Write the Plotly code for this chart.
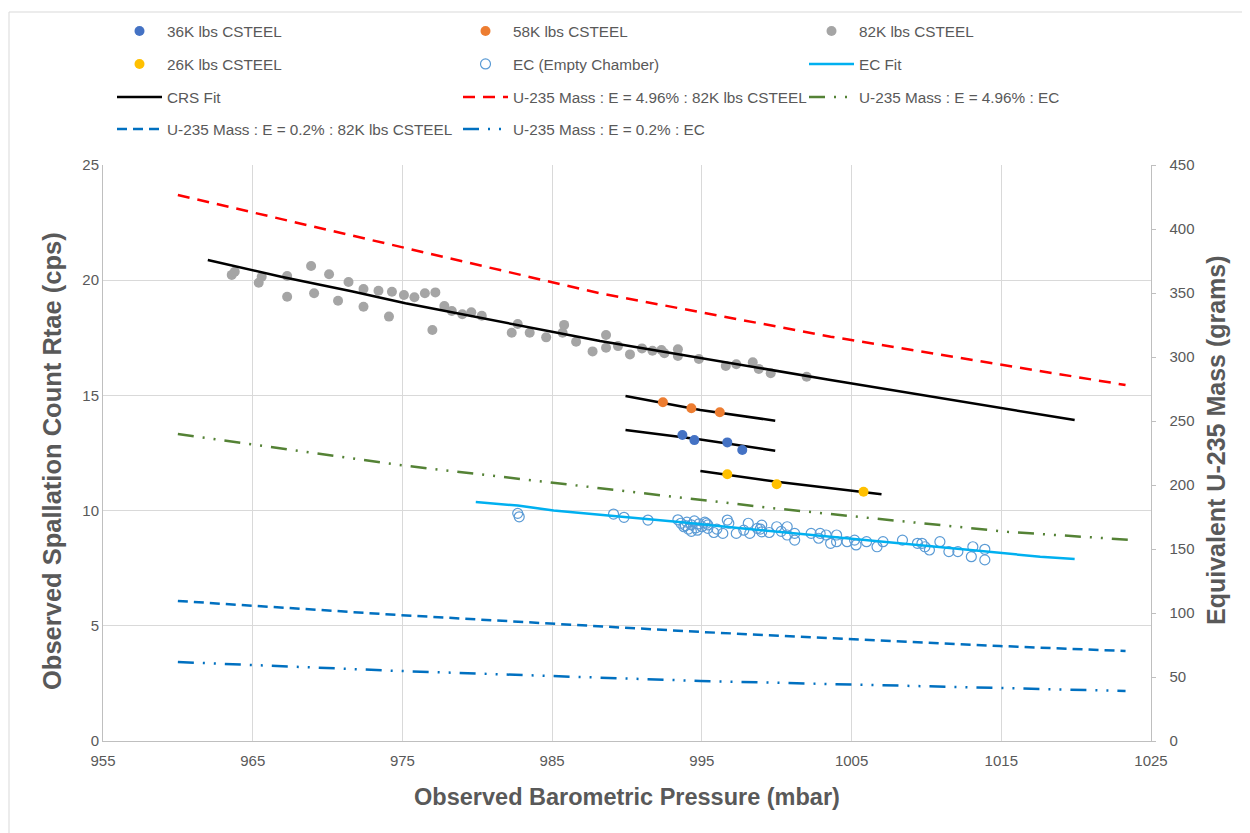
import plotly.graph_objects as go

# ---------------- data ----------------
# 82K lbs CSTEEL (gray)
x82 = [963.6, 963.8, 965.4, 965.6, 967.3, 967.3, 968.9, 969.1, 970.1, 970.7, 971.4, 972.4,
       972.4, 973.4, 974.3, 974.1, 975.1, 975.8, 976.5, 977.2, 977.0, 977.8, 978.3, 979.0,
       979.6, 980.3, 982.3, 982.7, 983.5, 984.6, 985.7, 985.8, 986.6, 987.7, 988.6, 988.6,
       989.4, 990.2, 991.0, 991.7, 992.3, 992.5, 993.4, 993.4, 994.8, 996.6, 997.3, 998.4,
       998.8, 999.6, 1002.0]
y82 = [20.23, 20.37, 19.89, 20.15, 20.18, 19.28, 20.62, 19.43, 20.26, 19.11, 19.92, 19.62,
       18.85, 19.54, 19.50, 18.42, 19.36, 19.26, 19.43, 19.47, 17.84, 18.88, 18.66, 18.52,
       18.61, 18.46, 17.72, 18.10, 17.72, 17.52, 17.72, 18.06, 17.33, 16.91, 17.62, 17.07,
       17.14, 16.78, 17.04, 16.94, 16.97, 16.83, 17.00, 16.71, 16.58, 16.28, 16.35, 16.44,
       16.15, 15.96, 15.81]

# 36K lbs CSTEEL (blue)
x36 = [993.7, 994.5, 996.7, 997.7]
y36 = [13.28, 13.06, 12.96, 12.63]

# 58K lbs CSTEEL (orange)
x58 = [992.4, 994.3, 996.2]
y58 = [14.70, 14.44, 14.27]

# 26K lbs CSTEEL (yellow)
x26 = [996.7, 1000.0, 1005.8]
y26 = [11.58, 11.14, 10.82]

# EC (Empty Chamber)
xec = [982.7, 982.8, 989.1, 989.8, 991.4,
       993.4, 993.6, 993.8, 994.0, 994.1, 994.3, 994.5, 994.6, 994.8, 994.3, 993.9, 995.0,
       995.2, 994.7, 995.4, 995.3, 995.4, 996.7, 996.8, 996.4, 997.3, 998.1, 998.2, 998.7,
       999.0, 999.0, 1000.0, 1000.7, 1000.7, 1001.2, 1001.2, 1002.3, 1002.9, 1002.8, 1003.3,
       1004.0, 1004.0, 1003.6, 1004.7, 1005.2, 1005.3, 1006.0, 1006.7, 1007.1, 1008.4,
       1009.4, 1009.7, 1009.9, 1010.2, 1010.9, 1011.5, 1012.1, 1013.1, 1013.9, 1013.0, 1013.9,
       996.0, 997.8, 999.5, 1000.3, 995.8, 998.9]
yec = [9.88, 9.73, 9.85, 9.71, 9.59,
       9.60, 9.45, 9.30, 9.50, 9.20, 9.38, 9.55, 9.25, 9.42, 9.10, 9.35, 9.30,
       9.50, 9.15, 9.38, 9.45, 9.23, 9.59, 9.45, 9.01, 9.01, 9.45, 9.01, 9.23,
       9.37, 9.08, 9.30, 9.30, 8.94, 9.01, 8.72, 9.01, 9.01, 8.80, 8.94,
       8.94, 8.65, 8.58, 8.65, 8.72, 8.51, 8.65, 8.43, 8.65, 8.72,
       8.58, 8.58, 8.43, 8.29, 8.65, 8.22, 8.22, 8.43, 8.32, 8.00, 7.86,
       9.20, 9.15, 9.05, 9.10, 9.05, 9.20]

# Fits
x_ecfit = [979.9, 982.7, 985.1, 993.3, 997.6, 1017.6, 1019.9]
y_ecfit = [10.37, 10.22, 10.00, 9.52, 9.23, 8.00, 7.90]

x_crs82 = [962.0, 964.8, 966.9, 971.6, 975.2, 988.2, 1003.6, 1019.9]
y_crs82 = [20.88, 20.45, 20.15, 19.52, 19.00, 17.36, 15.67, 13.93]
x_crs58 = [989.9, 994.9, 999.9]
y_crs58 = [14.97, 14.37, 13.90]
x_crs36 = [989.9, 994.9, 999.9]
y_crs36 = [13.50, 13.09, 12.60]
x_crs26 = [994.9, 1000.0, 1007.0]
y_crs26 = [11.72, 11.25, 10.71]

# U-235 mass lines (grams, right axis)
x_u_496_82 = [960.0, 975.1, 988.2, 1003.6, 1023.3]
y_u_496_82 = [426.6, 385.7, 349.7, 315.9, 278.1]
x_u_496_ec = [960.0, 974.8, 988.2, 999.8, 1015.4, 1023.8]
y_u_496_ec = [239.8, 215.6, 197.5, 181.8, 163.4, 157.0]
x_u_02_82 = [960.0, 974.8, 994.9, 1014.9, 1023.3]
y_u_02_82 = [109.4, 98.4, 85.2, 74.2, 70.3]
x_u_02_ec = [960.0, 974.8, 994.9, 1014.9, 1023.3]
y_u_02_ec = [61.7, 54.7, 46.9, 41.4, 39.1]

x_ticks = [955, 965, 975, 985, 995, 1005, 1015, 1025]

# ---------------- figure ----------------
GRAY_TXT = "#595959"
NARROW = "Liberation Sans Narrow, Arial Narrow, Liberation Sans, Arial, sans-serif"
REG = "Liberation Sans, Arial, sans-serif"
LEG_FONT = dict(family=NARROW, size=15.3, color=GRAY_TXT)

fig = go.Figure()
msize = 10

def mk(x, y, name, color, legend, hollow=False):
    if hollow:
        marker = dict(size=msize, color="rgba(0,0,0,0)", line=dict(color=color, width=1.2))
    else:
        marker = dict(size=msize, color=color)
    return go.Scatter(x=x, y=y, mode="markers", name=name, marker=marker, legend=legend)

def ln(x, y, name, color, dash, legend, yaxis="y", show=True, width=2.5):
    return go.Scatter(x=x, y=y, mode="lines", name=name, yaxis=yaxis,
                      line=dict(color=color, width=width, dash=dash),
                      legend=legend, showlegend=show)

# extra black fit segments (no legend entry)
fig.add_trace(ln(x_crs58, y_crs58, "CRS Fit", "black", "solid", "legend3", show=False))
fig.add_trace(ln(x_crs36, y_crs36, "CRS Fit", "black", "solid", "legend3", show=False))
fig.add_trace(ln(x_crs26, y_crs26, "CRS Fit", "black", "solid", "legend3", show=False))

# row 1
fig.add_trace(mk(x36, y36, "36K lbs CSTEEL", "#4472C4", "legend"))
fig.add_trace(mk(x58, y58, "58K lbs CSTEEL", "#ED7D31", "legend"))
fig.add_trace(mk(x82, y82, "82K lbs CSTEEL", "#A5A5A5", "legend"))
# row 2
fig.add_trace(mk(x26, y26, "26K lbs CSTEEL", "#FFC000", "legend2"))
fig.add_trace(mk(xec, yec, "EC (Empty Chamber)", "#5B9BD5", "legend2", hollow=True))
fig.add_trace(ln(x_ecfit, y_ecfit, "EC Fit", "#00B0F0", "solid", "legend2"))
# row 3
fig.add_trace(ln(x_crs82, y_crs82, "CRS Fit", "black", "solid", "legend3"))
fig.add_trace(ln(x_u_496_82, y_u_496_82, "U-235 Mass : E = 4.96% : 82K lbs CSTEEL", "#FF0000",
                 "12px,8px", "legend3", yaxis="y2"))
fig.add_trace(ln(x_u_496_ec, y_u_496_ec, "U-235 Mass : E = 4.96% : EC", "#548235",
                 "16px,9px,2px,9px,2px,9px", "legend3", yaxis="y2"))
# row 4
fig.add_trace(ln(x_u_02_82, y_u_02_82, "U-235 Mass : E = 0.2% : 82K lbs CSTEEL", "#0070C0",
                 "10px,6px", "legend4", yaxis="y2"))
fig.add_trace(ln(x_u_02_ec, y_u_02_ec, "U-235 Mass : E = 0.2% : EC", "#0070C0",
                 "16px,9px,2px,9px,2px,9px", "legend4", yaxis="y2"))

# The page body has an 8px margin, so the figure is drawn at (8, 8) in the window.
OFF = 8
W, H = 1250 - OFF, 833 - OFF
# plot area in window pixels: x 103..1151, y 165..741
PL, PR, PT, PB = 103, 1151, 165, 741
L, R, T, B = PL - OFF, W - (PR - OFF), PT - OFF, H - (PB - OFF)
PH = PB - PT
PW = PR - PL

def py(pix):
    return (PB - pix) / PH

def px(pix):
    return (pix - PL) / PW

def cy(pix):
    return 1 - (pix - OFF) / H

def cx(pix):
    return (pix - OFF) / W

legend_common = dict(orientation="h", xanchor="left", yanchor="middle",
                     xref="container", yref="container",
                     entrywidth=286, entrywidthmode="pixels", font=LEG_FONT,
                     bgcolor="rgba(0,0,0,0)", itemwidth=45)
leg_x = cx(112)
fig.update_layout(
    width=W, height=H,
    margin=dict(l=L, r=R, t=T, b=B, pad=0, autoexpand=False),
    paper_bgcolor="white", plot_bgcolor="white",
    legend=dict(legend_common, x=leg_x, y=cy(31)),
    legend2=dict(legend_common, x=leg_x, y=cy(64)),
    legend3=dict(legend_common, x=leg_x, y=cy(97)),
    legend4=dict(legend_common, x=leg_x, y=cy(129)),
    xaxis=dict(range=[955, 1025], tickvals=x_ticks, showgrid=True, gridcolor="#d9d9d9",
               gridwidth=1, showline=True, linecolor="#bfbfbf", linewidth=1, zeroline=False,
               ticks="", automargin=False, ticklabelstandoff=6,
               tickfont=dict(family=NARROW, size=15, color=GRAY_TXT),
               title=dict(text="<b>Observed Barometric Pressure (mbar)</b>",
                          font=dict(family=NARROW, size=23.5, color=GRAY_TXT), standoff=20)),
    yaxis=dict(range=[0, 25], dtick=5, showgrid=True, gridcolor="#d9d9d9", gridwidth=1,
               showline=True, linecolor="#bfbfbf", linewidth=1, zeroline=False, ticks="",
               automargin=False,
               tickfont=dict(family=REG, size=15, color=GRAY_TXT)),
    yaxis2=dict(range=[0, 450], dtick=50, overlaying="y", side="right", showgrid=False,
                showline=True, linecolor="#bfbfbf", linewidth=1, zeroline=False,
                ticks="outside", ticklen=4, tickcolor="#bfbfbf", automargin=False,
                tickprefix="\u2002\u2009",
                tickfont=dict(family=REG, size=15, color=GRAY_TXT)),
    annotations=[
        dict(text="<b>Observed Spallation Count Rtae (cps)</b>", xref="paper", yref="paper",
             x=px(52), y=py(461), xanchor="center", yanchor="middle", textangle=-90,
             showarrow=False, font=dict(family=REG, size=25.5, color=GRAY_TXT)),
        dict(text="<b>Equivalent U-235 Mass (grams)</b>", xref="paper", yref="paper",
             x=px(1216), y=py(440), xanchor="center", yanchor="middle", textangle=-90,
             showarrow=False, font=dict(family=REG, size=25, color=GRAY_TXT)),
    ],
    shapes=[dict(type="rect", xref="paper", yref="paper",
                 x0=px(9), x1=px(1262), y0=py(845), y1=py(12),
                 line=dict(color="#d9d9d9", width=1), fillcolor="rgba(0,0,0,0)", layer="below")],
)

fig.write_html("out.html")
